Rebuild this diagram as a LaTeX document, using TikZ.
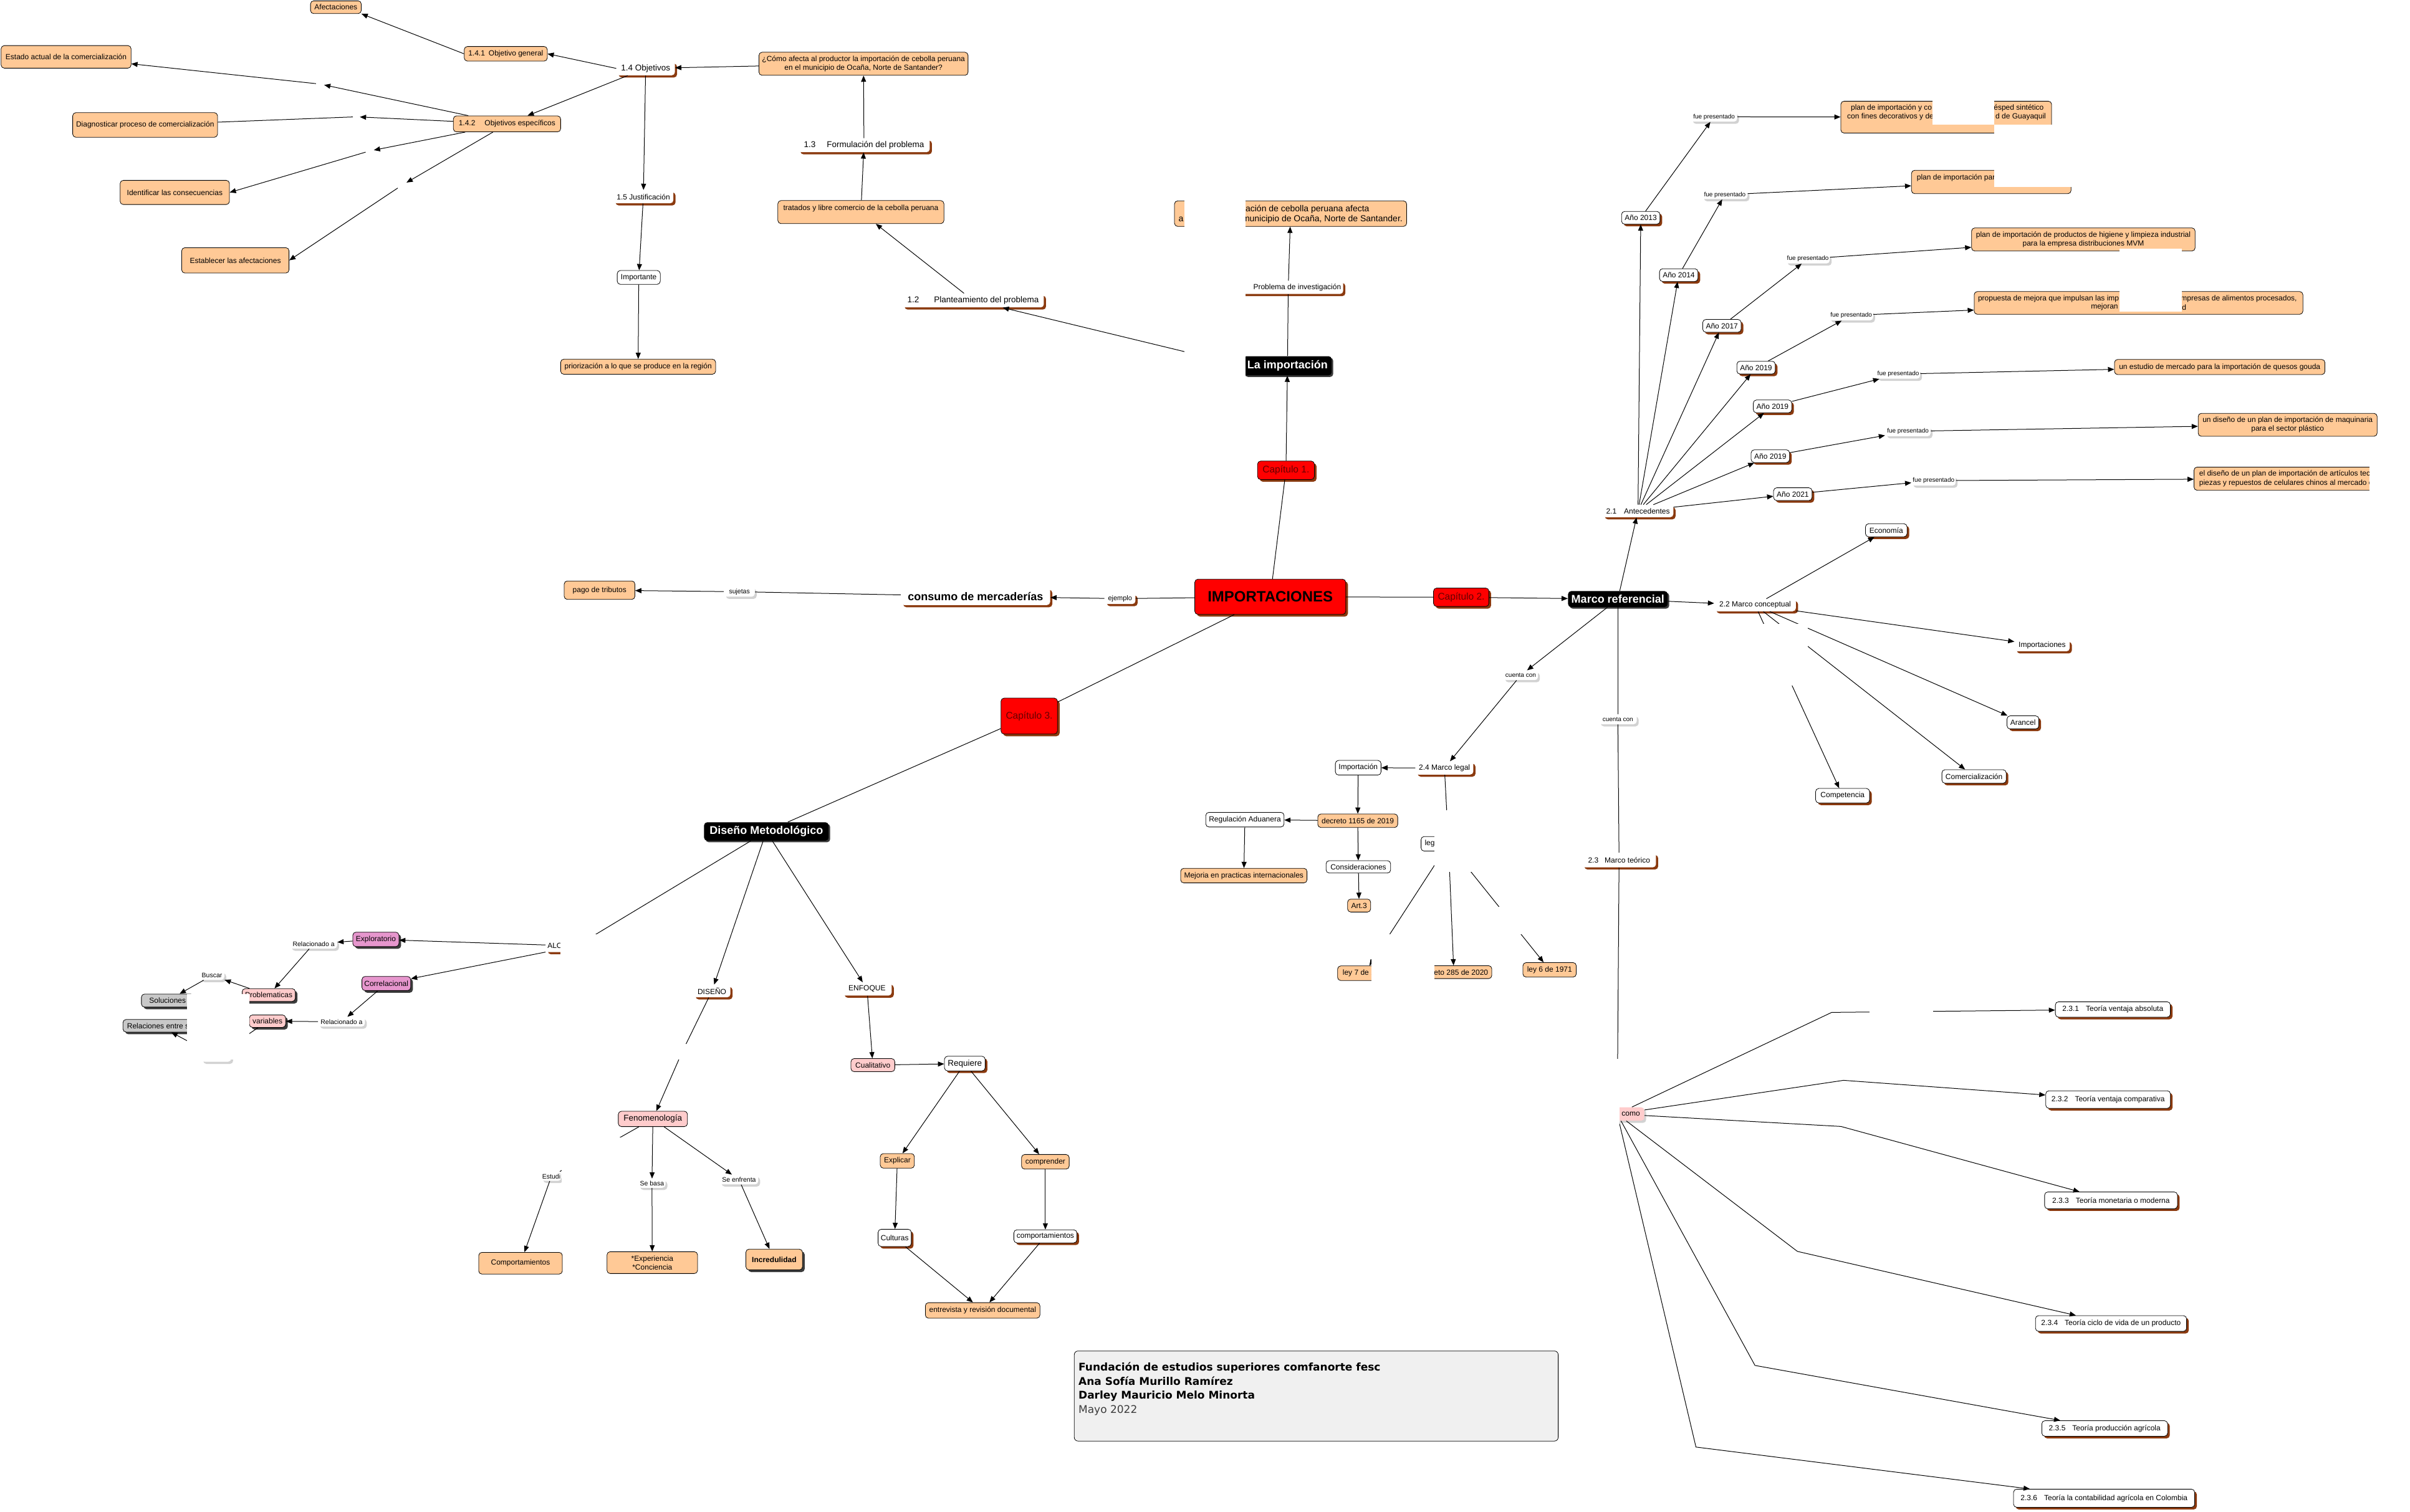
\documentclass[tikz,border=0pt]{standalone}
\usepackage{fontspec}
\setmainfont{Liberation Sans}
\newfontfamily\dejavu{DejaVu Sans}
\usetikzlibrary{arrows.meta,shadows}
\newcommand\fsz[2]{\fontsize{#1}{#2}\selectfont}
\definecolor{peach}{RGB}{255,201,150}
\definecolor{brsh}{RGB}{139,58,15}
\definecolor{lgsh}{RGB}{210,210,210}
\definecolor{dksh}{RGB}{60,60,60}
\definecolor{magp}{RGB}{230,150,205}
\definecolor{ltpk}{RGB}{255,204,204}
\definecolor{gry}{RGB}{200,200,200}
\definecolor{capred}{RGB}{100,0,0}
\definecolor{titlebg}{RGB}{240,240,240}
\definecolor{mayo}{RGB}{60,60,60}
\begin{document}
\begin{tikzpicture}[x=2.466pt,y=-2.466pt,
  sz/.style 2 args={minimum width=#1*2.466pt,minimum height=#2*2.466pt},
  nd/.style={rectangle,rounded corners=5pt,inner sep=1pt,align=center,font=\fsz{12}{14},line width=0.8pt},
  bsh/.style={drop shadow={shadow xshift=3.5pt,shadow yshift=-3.5pt,fill=brsh,opacity=1}},
  gsh/.style={drop shadow={shadow xshift=3pt,shadow yshift=-3.5pt,fill=lgsh,opacity=1}},
  dsh/.style={drop shadow={shadow xshift=3.5pt,shadow yshift=-3.5pt,fill=dksh,opacity=1}},
  orng/.style={nd,draw=black,fill=peach},
  wbox/.style={nd,draw=black,fill=white},
  wsh/.style={wbox,bsh},
  sect/.style={nd,fill=white,bsh},
  lnk/.style={nd,fill=white,gsh,font=\fsz{10.5}{12}},
  redb/.style={nd,draw=black,fill=red,bsh,font=\fsz{15.5}{18},text=capred},
  blk/.style={nd,fill=black,text=white,font=\bfseries\fsz{18}{21},drop shadow={shadow xshift=2.5pt,shadow yshift=-2.5pt,fill=dksh,opacity=1}},
  hid/.style={inner sep=0},
  frag/.style={inner sep=0,font=\fsz{12}{14}},
  arr/.style={-{Triangle[length=10pt,width=8pt]},line width=1pt},
  ln/.style={line width=1pt},
  patch/.style={fill=white,draw=none}]
\useasboundingbox (0,0) rectangle (1567.7,983.4);

% ---------- chapter 1 (top left) ----------
\node[orng,sz={33}{8.3}] (afect) at (218.5,4.7) {Afectaciones};
\node[orng,sz={54}{9.5}] (obg) at (329,35) {1.4.1\hspace{6pt}Objetivo general};
\node[orng,sz={84.5}{14.7}] (estado) at (43,37) {Estado actual de la comercialización};
\node[sect,sz={38}{9},font=\fsz{13.5}{16}] (obj14) at (420,44.5) {1.4 Objetivos};
\node[orng,sz={136}{15}] (comoq) at (561.7,41.5) {¿Cómo afecta al productor la importación de cebolla peruana\\en el municipio de Ocaña, Norte de Santander?};
\node[orng,sz={69.8}{10.4}] (obe) at (329.8,80.6) {1.4.2\hspace{15pt}Objetivos específicos};
\node[orng,sz={94.2}{16}] (diag) at (94.4,81.3) {Diagnosticar proceso de comercialización};
\node[orng,sz={71.1}{15.7}] (ident) at (113.7,125.2) {Identificar las consecuencias};
\node[orng,sz={69.8}{16.5}] (estab) at (153.1,169.4) {Establecer las afectaciones};
\node[hid,sz={5.2}{3}] (h1) at (208.2,54.7) {};
\node[hid,sz={4.4}{2}] (h2) at (231.8,76) {};
\node[hid,sz={5.2}{2.4}] (h3) at (240.5,98.2) {};
\node[hid,sz={5.7}{3.5}] (h4) at (261.5,120.5) {};
\node[sect,sz={85.6}{9},font=\fsz{13.5}{16}] (f13) at (562,94.5) {1.3\hspace{18pt}Formulación del problema};
\node[orng,sz={108}{15}] (tratados) at (560,138) {tratados y libre comercio de la cebolla peruana\\\mbox{}};
\node[sect,sz={39}{8.5}] (just) at (418.5,128) {1.5 Justificación};
\node[wbox,sz={28}{9}] (impte) at (415.5,180.5) {Importante};
\node[orng,sz={100.8}{9.8}] (prior) at (415.1,238.6) {priorización a lo que se produce en la región};
\node[sect,sz={92}{9},font=\fsz{13.5}{16}] (f12) at (633,195.5) {1.2\hspace{24pt}Planteamiento del problema};
\node[orng,sz={151}{16.6}] (pinv) at (839.5,139) {};
\node[frag,font=\fsz{14}{16},anchor=east] (pinv1) at (890.8,136.1) {ación de cebolla peruana afecta};
\node[frag,font=\fsz{14}{16},anchor=west] (pinv2) at (766.6,142.7) {a};
\node[frag,font=\fsz{14}{16},anchor=east] (pinv3) at (912.4,142.7) {municipio de Ocaña, Norte de Santander.};
\node[sect,sz={71.5}{8.5}] (pinvest) at (838,187) {1.1\hspace{12pt}Problema de investigación};
\node[blk,sz={57.5}{12.5}] (laimp) at (837.5,238) {La importación};
\node[redb,sz={37}{12}] (cap1) at (836.5,306) {Capítulo 1.};

% ---------- center ----------
\node[nd,draw=black,fill=red,bsh,sz={98.2}{22.9},font=\bfseries\fsz{24}{28}] (imp) at (826.3,388.3) {IMPORTACIONES};
\node[nd,fill=white,bsh,sz={20}{7},font=\fsz{11}{13}] (ejemplo) at (728.6,389.5) {ejemplo};
\node[sect,sz={97}{11.3},font=\bfseries\fsz{18}{21}] (consumo) at (634.6,388) {consumo de mercaderías};
\node[lnk,sz={20}{6.5}] (sujetas) at (481,385) {sujetas};
\node[orng,sz={46}{12}] (pago) at (390,384) {pago de tributos};
\node[redb,sz={36}{12}] (cap2) at (950.5,388.6) {Capítulo 2.};
\node[blk,sz={64.8}{10.4}] (marcoref) at (1052.4,389.8) {Marco referencial};
\node[redb,sz={36.7}{23.4}] (cap3) at (669.5,465.9) {Capítulo 3.};
\node[blk,sz={81}{12}] (dm) at (498.5,541) {Diseño Metodológico};

% ---------- 2.1 antecedentes ----------
\node[sect,sz={46}{8}] (ant21) at (1065.5,332.5) {2.1\hspace{12pt}Antecedentes};
\node[wsh,sz={25}{8.3}] (y13) at (1067.3,141.7) {Año 2013};
\node[wsh,sz={25}{8.3}] (y14) at (1092,179) {Año 2014};
\node[wsh,sz={25}{8.3}] (y17) at (1120.1,212) {Año 2017};
\node[wsh,sz={25}{8.3}] (y19a) at (1142.3,239.2) {Año 2019};
\node[wsh,sz={25}{8.3}] (y19b) at (1153,264.4) {Año 2019};
\node[wsh,sz={25}{8.3}] (y19c) at (1151.6,296.8) {Año 2019};
\node[wsh,sz={25}{8.3}] (y21) at (1166.2,321.5) {Año 2021};
\node[lnk,sz={30}{6.3},font=\fsz{10}{12}] (fp1) at (1115,76) {fue presentado};
\node[lnk,sz={29.5}{5.7},font=\fsz{10}{12}] (fp2) at (1122,126.7) {fue presentado};
\node[lnk,sz={28.5}{6},font=\fsz{10}{12}] (fp3) at (1176,168.4) {fue presentado};
\node[lnk,sz={28.5}{6.5},font=\fsz{10}{12}] (fp4) at (1204.2,205.2) {fue presentado};
\node[lnk,sz={28.5}{6},font=\fsz{10}{12}] (fp5) at (1234.8,243.4) {fue presentado};
\node[lnk,sz={29.5}{6.5},font=\fsz{10}{12}] (fp6) at (1241.1,280.6) {fue presentado};
\node[lnk,sz={28.7}{6.5},font=\fsz{10}{12}] (fp7) at (1257.8,312.7) {fue presentado};
\node[orng,sz={137.1}{20.7}] (b1) at (1266,76.2) {};
\node[frag,anchor=west] (b1a) at (1203.9,70.3) {plan de importación y co};
\node[frag,anchor=east] (b1b) at (1329.5,70.3) {ésped sintético};
\node[frag,anchor=west] (b1c) at (1201.5,76.1) {con fines decorativos y de};
\node[frag,anchor=east] (b1d) at (1330.9,76.1) {d de Guayaquil};
\node[orng,sz={103.8}{15.2}] (b2) at (1295.3,118.4) {};
\node[frag,anchor=west] (b2a) at (1246.8,115.6) {plan de importación par};
\node[orng,sz={145.4}{15}] (b3) at (1355.2,155.8) {plan de importación de productos de higiene y limpieza industrial\\para la empresa distribuciones MVM};
\node[orng,sz={213.8}{14.8}] (b4) at (1391.1,197.1) {};
\node[frag,anchor=west] (b4a) at (1286.6,194.4) {propuesta de mejora que impulsan las imp};
\node[frag,anchor=east] (b4b) at (1494.2,194.4) {mpresas de alimentos procesados,};
\node[frag,anchor=west] (b4c) at (1360.1,199.8) {mejoran};
\node[frag,anchor=west] (b4d) at (1419.3,199.8) {d};
\node[orng,sz={136.9}{9.8}] (b5) at (1443.9,238.8) {un estudio de mercado para la importación de quesos gouda};
\node[orng,sz={116.4}{14.9}] (b6) at (1488.1,276.4) {un diseño de un plan de importación de maquinaria\\para el sector plástico};
\node[orng,sz={130}{15.1}] (b7) at (1492.2,311.45) {};
\node[frag,anchor=west] (b7a) at (1430.5,308.5) {el diseño de un plan de importación de artículos tec};
\node[frag,anchor=west] (b7b) at (1430.5,314.3) {piezas y repuestos de celulares chinos al mercado c};

% ---------- 2.2 ----------
\node[sect,sz={53}{8}] (mc22) at (1141.7,393.7) {2.2 Marco conceptual};
\node[wsh,sz={27}{8.5}] (econ) at (1227,345) {Economía};
\node[sect,sz={35.8}{7.5}] (impns) at (1328.4,420) {Importaciones};
\node[wsh,sz={20.7}{8.5}] (aranc) at (1315.9,470) {Arancel};
\node[wsh,sz={41.8}{8.8}] (comerc) at (1284.1,505.2) {Comercialización};
\node[wsh,sz={35.1}{9.4}] (compet) at (1198.6,517.7) {Competencia};

% ---------- 2.4 marco legal ----------
\node[lnk,sz={22.5}{6.2},font=\fsz{10}{12}] (cc1) at (989.2,439.4) {cuenta con};
\node[lnk,sz={24.6}{6.4},font=\fsz{10}{12}] (cc2) at (1052.4,468) {cuenta con};
\node[sect,sz={37.6}{8.5}] (ml24) at (939.6,499.7) {2.4 Marco legal};
\node[wbox,sz={29.7}{9.5}] (importa) at (883.5,499.5) {Importación};
\node[orng,sz={52}{8.8}] (dec1165) at (883.2,534) {decreto 1165 de 2019};
\node[wbox,sz={50.9}{9.5}] (regul) at (809.8,533.3) {Regulación Aduanera};
\node[orng,sz={82.2}{9.5}] (mejoria) at (809.1,569.7) {Mejoria en practicas internacionales};
\node[wbox,sz={42}{8}] (consid) at (883.6,564) {Consideraciones};
\node[orng,sz={15}{8.4}] (art3) at (884.1,589.2) {Art.3};
\node[wbox,sz={35.6}{9.5}] (leg) at (942.2,549) {\makebox[76pt][l]{leg}};
\node[orng,sz={35}{9.5}] (ley7) at (887.6,633.2) {\makebox[70pt][l]{ley 7 de 1}};
\node[orng,sz={49.4}{8.4}] (dec285) at (945.7,632.5) {\makebox[110pt][r]{eto 285 de 2020}};
\node[orng,sz={34.7}{9.4}] (ley6) at (1008,631) {ley 6 de 1971};

% ---------- 2.3 marco teorico ----------
\node[sect,sz={48}{9.4}] (mt23) at (1053.2,559.6) {2.3\hspace{10pt}Marco teórico};
\node[nd,fill=ltpk,gsh,sz={35.2}{8.7}] (como) at (1052,724.8) {\makebox[73pt][r]{como}};
\node[wsh,sz={74.8}{10}] (t231) at (1374.4,656.8) {2.3.1\hspace{11pt}Teoría ventaja absoluta};
\node[wsh,sz={81.1}{11.4}] (t232) at (1371.3,715.4) {2.3.2\hspace{11pt}Teoría ventaja comparativa};
\node[wsh,sz={86.4}{10.9}] (t233) at (1373.2,781) {2.3.3\hspace{11pt}Teoría monetaria o moderna};
\node[wsh,sz={98.3}{10.2}] (t234) at (1373.2,861.1) {2.3.4\hspace{11pt}Teoría ciclo de vida de un producto};
\node[wsh,sz={81.8}{10.1}] (t235) at (1369.1,929.4) {2.3.5\hspace{11pt}Teoría producción agrícola};
\node[wsh,sz={117.8}{11.8}] (t236) at (1368.7,974.8) {2.3.6\hspace{11pt}Teoría la contabilidad agrícola en Colombia};
\coordinate (k1) at (1191.5,658.7);
\coordinate (k2) at (1199.2,702.9);
\coordinate (k3) at (1197.5,732.9);
\coordinate (k4) at (1169.2,814.2);
\coordinate (k5) at (1141.6,888.4);
\coordinate (k6) at (1103.2,941.5);

% ---------- chapter 3 ----------
\node[sect,sz={40}{8}] (alc) at (375,615.5) {\makebox[93pt][l]{ALC}};
\node[sect,sz={24}{8.1}] (dis) at (463.1,644.8) {DISEÑO};
\node[sect,sz={32}{8.5}] (enf) at (564,643.5) {ENFOQUE};
\node[nd,draw=black,fill=magp,dsh,sz={30}{9.4}] (explo) at (244.5,611.2) {Exploratorio};
\node[nd,draw=black,fill=magp,dsh,sz={31.7}{9.2}] (correl) at (251.3,639.9) {Correlacional};
\node[lnk,sz={30.6}{6.2}] (rel1) at (204,614.1) {Relacionado a};
\node[nd,draw=black,fill=ltpk,dsh,sz={34.6}{8.3}] (probl) at (174.8,647.4) {Problematicas};
\node[lnk,sz={16}{5.8}] (buscar) at (137.9,634.7) {Buscar};
\node[nd,draw=black,fill=gry,dsh,sz={34}{8.5}] (soluc) at (109,651) {Soluciones};
\node[lnk,sz={30.3}{6.2}] (rel2) at (222.2,664.8) {Relacionado a};
\node[nd,draw=black,fill=ltpk,dsh,sz={23.6}{8.1}] (variab) at (174,664.4) {variables};
\node[lnk,sz={19.4}{7}] (hv) at (140.7,687.3) {};
\node[nd,draw=black,fill=gry,dsh,sz={47}{8.2}] (relac) at (103.5,667.4) {\makebox[102.7pt][l]{Relaciones entre s}};
\node[hid,sz={20}{10}] (hd) at (443.8,684.3) {};
\node[nd,draw=black,fill=ltpk,sz={45}{10},font=\fsz{13.5}{16}] (fen) at (424.7,728) {Fenomenología};
\node[lnk,sz={13}{5.9}] (estu) at (358.7,765.3) {Estudi};
\node[orng,sz={54.4}{14.1}] (comport) at (338.6,821.9) {Comportamientos};
\node[lnk,sz={17.6}{5.8}] (sebasa) at (424.1,769.9) {Se basa};
\node[orng,sz={58.9}{14.2}] (exper) at (424.3,821.5) {*Experiencia\\*Conciencia};
\node[lnk,sz={25}{6.2}] (seenf) at (480.7,767.5) {Se enfrenta};
\node[nd,draw=black,fill=peach,dsh,sz={36.8}{13.5},font=\bfseries\fsz{12}{14}] (incred) at (503.6,819.5) {Incredulidad};
\node[nd,draw=black,fill=ltpk,sz={28.5}{8.5}] (cualit) at (567.8,693) {Cualitativo};
\node[wsh,sz={26.5}{9.5},font=\fsz{13.5}{16}] (requ) at (627.6,692) {Requiere};
\node[orng,sz={22.2}{9.5}] (explic) at (583.7,755.3) {Explicar};
\node[orng,sz={31}{9.5}] (compr) at (680,755.9) {comprender};
\node[wsh,sz={21.6}{11.2}] (cultur) at (582,805.4) {Culturas};
\node[wsh,sz={41}{8.5}] (comptos) at (680,804.4) {comportamientos};
\node[orng,sz={74.5}{10.1}] (entrev) at (639.2,852.6) {entrevista y revisión documental};

% ---------- title ----------
\node[draw=black,fill=titlebg,rounded corners=6pt,line width=0.8pt,sz={314.8}{58.6}] (tbox) at (856.2,908.3) {};
\node[anchor=north west,align=left,inner sep=0,font=\dejavu\fsz{17}{22.7}] (ttext) at (701.5,886.3) {\textbf{Fundación de estudios superiores comfanorte fesc}\\\textbf{Ana Sofía Murillo Ramírez}\\\textbf{Darley Mauricio Melo Minorta}\\\textcolor{mayo}{Mayo 2022}};

% ================= connectors =================
\draw[arr] (obg.west) -- (afect.south east);
\draw[arr] (obj14.west) -- (obg.east);
\draw[arr] (obj14) -- (obe);
\draw[arr] (obe) -- (h1); \draw[arr] (h1) -- (estado);
\draw[arr] (obe) -- (h2); \draw[ln] (h2) -- (diag);
\draw[arr] (obe) -- (h3); \draw[arr] (h3) -- (ident.east);
\draw[arr] (obe) -- (h4); \draw[arr] (h4) -- (estab.east);
\draw[arr] (comoq) -- (obj14);
\draw[arr] (obj14) -- (just);
\draw[arr] (just) -- (impte);
\draw[arr] (impte) -- (prior);
\draw[arr] (f13) -- (comoq);
\draw[arr] (tratados) -- (f13);
\draw[arr] (f12) -- (tratados);
\draw[arr] (laimp.west) -- (f12);
\draw[ln] (laimp) -- (pinvest);
\draw[arr] (pinvest) -- (pinv);
\draw[arr] (cap1) -- (laimp);
\draw[ln] (imp) -- (cap1);

\draw[ln] (imp) -- (ejemplo); \draw[arr] (ejemplo) -- (consumo);
\draw[ln] (consumo) -- (sujetas); \draw[arr] (sujetas) -- (pago);
\draw[ln] (imp) -- (cap3);
\draw[ln] (cap3) -- (dm);
\draw[ln] (imp) -- (cap2); \draw[arr] (cap2) -- (marcoref);
\draw[arr] (marcoref) -- (ant21);
\draw[arr] (marcoref) -- (mc22);
\draw[arr] (marcoref) -- (cc1); \draw[arr] (cc1) -- (ml24);
\draw[ln] (marcoref) -- (cc2); \draw[ln] (cc2) -- (mt23);
\draw[ln] (mt23) -- (como);

\draw[arr] (ml24) -- (importa);
\draw[arr] (importa) -- (dec1165);
\draw[arr] (dec1165) -- (regul);
\draw[arr] (regul) -- (mejoria);
\draw[arr] (dec1165) -- (consid);
\draw[arr] (consid) -- (art3);
\draw[ln] (ml24) -- (leg);
\draw[arr] (leg) -- (ley7);
\draw[arr] (leg) -- (dec285);
\draw[arr] (leg) -- (ley6);

\foreach \y in {y13,y14,y17,y19a,y19b,y19c,y21} {\draw[arr] (ant21) -- (\y);}
\draw[arr] (y13) -- (fp1); \draw[arr] (fp1) -- (b1);
\draw[arr] (y14) -- (fp2); \draw[arr] (fp2) -- (b2);
\draw[arr] (y17) -- (fp3); \draw[arr] (fp3) -- (b3);
\draw[arr] (y19a) -- (fp4); \draw[arr] (fp4) -- (b4);
\draw[arr] (y19b) -- (fp5); \draw[arr] (fp5) -- (b5);
\draw[arr] (y19c) -- (fp6); \draw[arr] (fp6) -- (b6);
\draw[arr] (y21) -- (fp7); \draw[arr] (fp7) -- (b7);

\foreach \t in {econ,impns,aranc,comerc,compet} {\draw[arr] (mc22) -- (\t);}

\draw[arr] (como) -- (k1) -- (t231);
\draw[arr] (como) -- (k2) -- (t232);
\draw[arr] (como) -- (k3) -- (t233);
\draw[arr] (como) -- (k4) -- (t234);
\draw[arr] (como) -- (k5) -- (t235);
\draw[arr] (como) -- (k6) -- (t236);

\draw[ln] (dm) -- (alc);
\draw[arr] (dm) -- (dis);
\draw[arr] (dm) -- (enf);
\draw[arr] (alc) -- (explo);
\draw[arr] (alc) -- (correl);
\draw[arr] (explo) -- (rel1); \draw[arr] (rel1) -- (probl);
\draw[arr] (probl) -- (buscar); \draw[arr] (buscar) -- (soluc);
\draw[arr] (correl) -- (rel2); \draw[arr] (rel2) -- (variab);
\draw[arr] (variab) -- (hv); \draw[arr] (hv) -- (relac);
\draw[ln] (dis) -- (hd); \draw[arr] (hd) -- (fen);
\draw[ln] (fen) -- (estu); \draw[arr] (estu) -- (comport);
\draw[arr] (fen) -- (sebasa); \draw[arr] (sebasa) -- (exper);
\draw[arr] (fen) -- (seenf); \draw[arr] (seenf) -- (incred);
\draw[arr] (enf) -- (cualit); \draw[arr] (cualit) -- (requ);
\draw[arr] (requ) -- (explic); \draw[arr] (requ) -- (compr);
\draw[arr] (explic) -- (cultur); \draw[arr] (compr) -- (comptos);
\draw[arr] (cultur) -- (entrev); \draw[arr] (comptos) -- (entrev);

% ================= blank areas of the picture =================
\fill[patch] (770.5,128) rectangle (810,245);
\fill[patch] (1257,65) rectangle (1297.2,81.1);
\fill[patch] (1297.2,81.1) rectangle (1339,88.5);
\fill[patch] (1297.2,109.5) rectangle (1350,121.7);
\fill[patch] (1378.8,161.9) rectangle (1419.3,164.5);
\fill[patch] (1378.8,189) rectangle (1419.3,202.8);
\fill[patch] (1541.2,301) rectangle (1567.7,323);
\fill[patch] (933,527) rectangle (985,567.5);
\fill[patch] (892.1,608) rectangle (933,641);
\fill[patch] (962,590) rectangle (1000,608);
\fill[patch] (364.7,608) rectangle (398,626);
\fill[patch] (121.6,646.8) rectangle (162.2,689.4);
\fill[patch] (365.2,740) rectangle (405,773);
\fill[patch] (1030,689) rectangle (1053.7,731.5);
\fill[patch] (1216.2,650) rectangle (1257.5,666);
\fill[patch] (1140,406) rectangle (1176,446);
\end{tikzpicture}
\end{document}
